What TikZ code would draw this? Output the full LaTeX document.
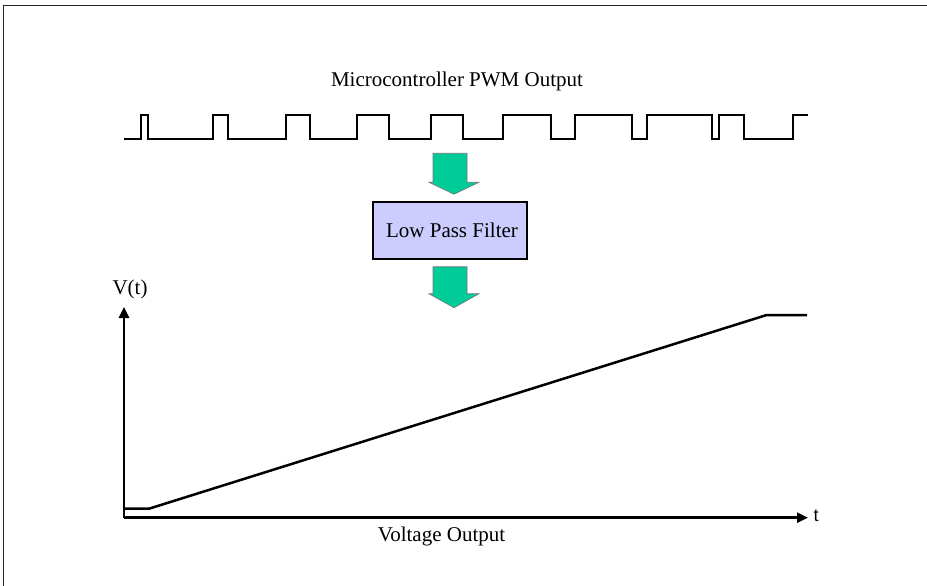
\documentclass[tikz,border=0pt]{standalone}
\usepackage{fontspec}
\setmainfont{Liberation Serif}
\newfontfamily\arialfont{Liberation Sans}
\usetikzlibrary{arrows.meta,calc}
\definecolor{arrowgreen}{RGB}{0,204,153}
\definecolor{filterfill}{RGB}{204,204,255}
\begin{document}
\begin{tikzpicture}[x=1pt,y=-1pt,
  lbl/.style={inner sep=0pt,font=\fontsize{21}{25}\selectfont},
  pwmline/.style={line width=2pt,line join=miter},
  axisline/.style={line width=2.5pt,-{Triangle[length=11pt,width=10pt]}},
  rampline/.style={line width=2.5pt,line join=miter},
  blockarrow/.style={fill=arrowgreen,draw=black!55,line width=0.6pt},
  filterbox/.style={draw,line width=1.5pt,fill=filterfill,minimum width=154pt,minimum height=57pt,inner sep=0pt,font=\fontsize{21}{25}\selectfont}]
\useasboundingbox (0,0) rectangle (927,586);
% frame
\draw[line width=1pt,black!85] (3,586) -- (3,6) -- (927,6);
% title
\node[lbl] (title) at (457,81) {Microcontroller PWM Output};
% PWM waveform
\draw[pwmline] (124,139)
  foreach \r/\f in {141/148,213/228,286/310,357/389,431/463,503/551,575/632,647/712,719/744}
  { -- (\r,139) -- (\r,115) -- (\f,115) -- (\f,139) }
  -- (793,139) -- (793,115) -- (808,115);
% filter
\node[filterbox] (filter) at (450,230.5) {\hspace{4pt}Low Pass Filter};
% green block arrows
\coordinate (a1) at ($(filter.north)+(0,-48)$);
\coordinate (a2) at ($(filter.south)+(0,7)$);
\filldraw[blockarrow] ($(a1)+(-17,0)$) -- ($(a1)+(17,0)$) -- ($(a1)+(17,29)$) -- ($(a1)+(29,29)$)
  -- ($(filter.north)+(4,-7)$) -- ($(a1)+(-21,29)$) -- ($(a1)+(-17,29)$) -- cycle;
\filldraw[blockarrow] ($(a2)+(-17,0)$) -- ($(a2)+(17,0)$) -- ($(a2)+(17,27)$) -- ($(a2)+(29,27)$)
  -- ($(a2)+(4,41)$) -- ($(a2)+(-21,27)$) -- ($(a2)+(-17,27)$) -- cycle;
% axes
\coordinate (origin) at (124,517.7);
\coordinate (ytip) at (124,307);
\coordinate (xtip) at (808,517.7);
\draw[axisline] (origin) -- (ytip);
\draw[axisline] (origin) -- (xtip);
\node[lbl] (vlabel) at (130,289) {V(t)};
\node[inner sep=0pt,font=\arialfont\fontsize{18}{20}\selectfont] (tlabel) at (816,516) {t};
\node[lbl] (xlabel) at (441.5,536) {Voltage Output};
% ramp
\coordinate (r0) at (124,508.7);
\coordinate (r1) at (149,508.7);
\coordinate (r2) at (766.7,315);
\coordinate (r3) at (807,315);
\draw[rampline] (r0) -- (r1) -- (r2) -- (r3);
\end{tikzpicture}
\end{document}
